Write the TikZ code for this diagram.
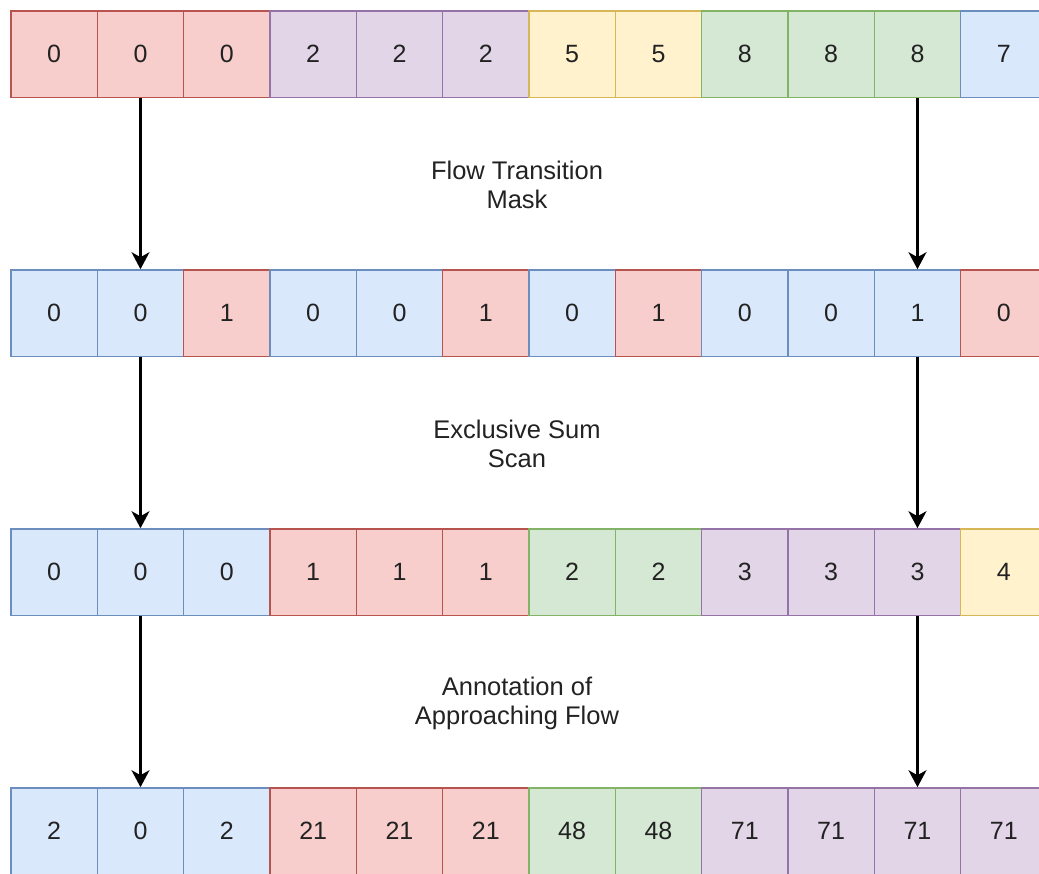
\documentclass[tikz,border=0pt]{standalone}
\usepackage{fontspec}
\setmainfont{Liberation Sans}
\usetikzlibrary{arrows.meta}
% cell palette: fill / stroke
\definecolor{cellRfill}{HTML}{F8CECC}\definecolor{cellRline}{HTML}{B85450}
\definecolor{cellPfill}{HTML}{E1D5E7}\definecolor{cellPline}{HTML}{9673A6}
\definecolor{cellYfill}{HTML}{FFF2CC}\definecolor{cellYline}{HTML}{D6B656}
\definecolor{cellGfill}{HTML}{D5E8D4}\definecolor{cellGline}{HTML}{82B366}
\definecolor{cellBfill}{HTML}{DAE8FC}\definecolor{cellBline}{HTML}{6C8EBF}
\definecolor{textc}{HTML}{222222}
\begin{document}
\begin{tikzpicture}[x=1pt,y=1pt,
  cell/.style={minimum width=86.33pt, minimum height=86.33pt, inner sep=0pt,
    line width=1.6pt, fill=cell#1fill, draw=cell#1line,
    font=\fontsize{25}{30}\selectfont, text=textc},
  caption/.style={align=center, font=\fontsize{25.5}{29}\selectfont, text=textc},
  flow/.style={-{Stealth[length=17pt,width=18pt,inset=5pt]}, line width=2.3pt, draw=black}]
\useasboundingbox (0,0) rectangle (1039,-874);
% four rows of twelve cells
\foreach \r/\top/\cells in {
  1/11/{R/0,R/0,R/0,P/2,P/2,P/2,Y/5,Y/5,G/8,G/8,G/8,B/7},
  2/270/{B/0,B/0,R/1,B/0,B/0,R/1,B/0,R/1,B/0,B/0,B/1,R/0},
  3/529/{B/0,B/0,B/0,R/1,R/1,R/1,G/2,G/2,P/3,P/3,P/3,Y/4},
  4/788/{B/2,B/0,B/2,R/21,R/21,R/21,G/48,G/48,P/71,P/71,P/71,P/71}}{
  \foreach \k/\v [count=\i] in \cells {
    \node[cell=\k] (r\r c\i) at ({11+86.33*(\i-0.5)}, {-\top-43.17}) {\v};
  }
}
% stage labels
\node[caption] (lab1) at (517,-185) {Flow Transition\\Mask};
\node[caption] (lab2) at (517,-444) {Exclusive Sum\\Scan};
\node[caption] (lab3) at (517,-703) {Annotation of\\Approaching Flow};
% arrows between stages
\foreach \a/\b in {1/2,2/3,3/4}{
  \draw[flow] (r\a c2.south) -- (r\b c2.north);
  \draw[flow] (r\a c11.south) -- (r\b c11.north);
}
\end{tikzpicture}
\end{document}
